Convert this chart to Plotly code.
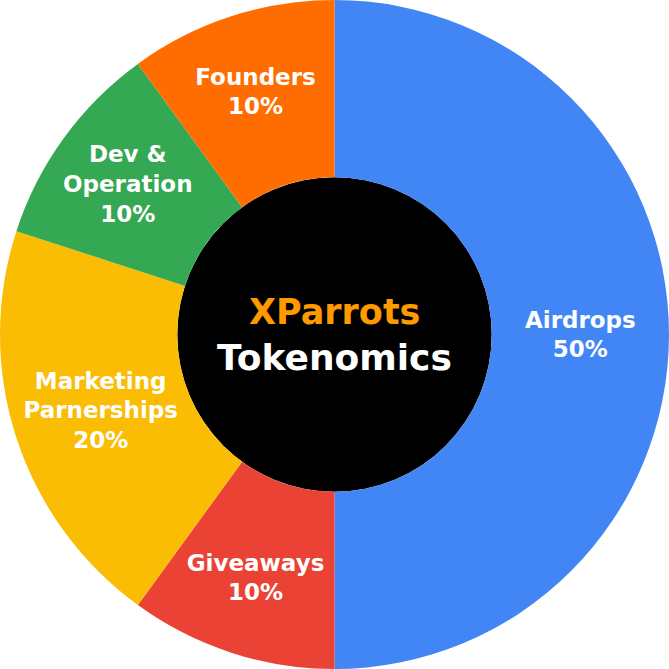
import plotly.graph_objects as go

# Tokenomics split
labels = ["Airdrops", "Giveaways", "Marketing<br>Parnerships", "Dev &<br>Operation", "Founders"]
values = [50, 10, 20, 10, 10]
colors = ["#4285F4", "#EA4335", "#FBBC04", "#34A853", "#FF6D01"]

title_top = "XParrots"
title_bottom = "Tokenomics"

fig = go.Figure(
    go.Pie(
        labels=labels,
        values=values,
        hole=0.47,
        sort=False,
        direction="clockwise",
        rotation=0,
        marker=dict(colors=colors, line=dict(width=0)),
        texttemplate="%{label}<br>%{value}%",
        textposition="inside",
        insidetextorientation="horizontal",
        textfont=dict(family="DejaVu Sans", size=23, color="white", weight="bold"),
        hoverinfo="label+value",
        showlegend=False,
    )
)

fig.add_annotation(
    x=0.5, y=0.534, xref="paper", yref="paper",
    text=f"<b>{title_top}</b>", showarrow=False,
    font=dict(family="DejaVu Sans", size=35, color="#FF9900"),
)
fig.add_annotation(
    x=0.5, y=0.466, xref="paper", yref="paper",
    text=f"<b>{title_bottom}</b>", showarrow=False,
    font=dict(family="DejaVu Sans", size=36, color="white"),
)

# black centre disk behind the hole
fig.add_shape(
    type="circle", xref="paper", yref="paper", layer="below",
    x0=0.265, y0=0.265, x1=0.735, y1=0.735,
    fillcolor="black", line=dict(width=0),
)

fig.update_layout(
    width=669, height=669,
    margin=dict(l=0, r=0, t=0, b=0),
    paper_bgcolor="white",
    plot_bgcolor="white",
    uniformtext=dict(minsize=23, mode="show"),
)

# drop the default page margin so the figure sits at the window's corner
fig.write_html(
    "out.html",
    config={"displayModeBar": False},
    post_script="document.body.style.margin='0';",
)
